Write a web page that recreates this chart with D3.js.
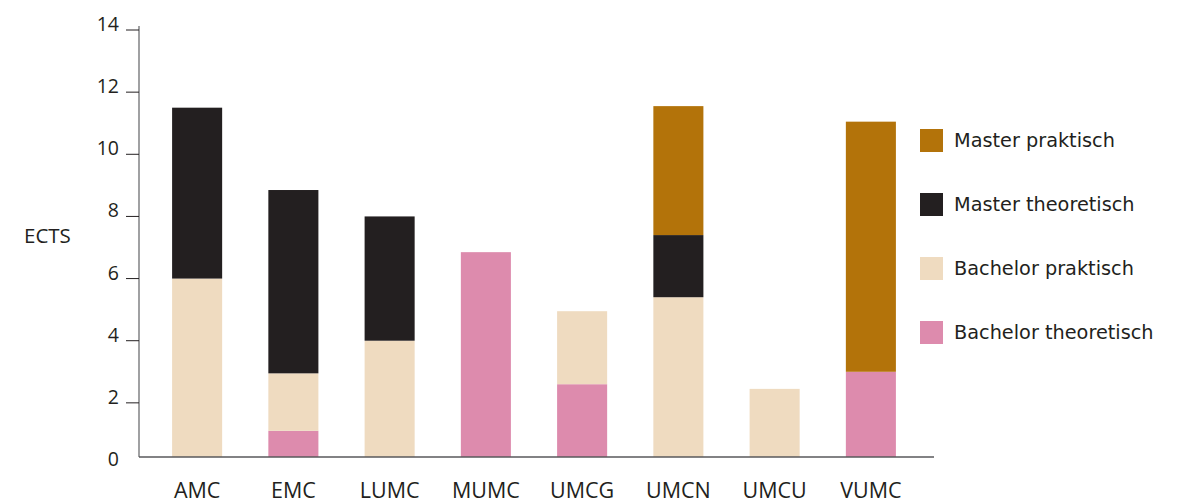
<!DOCTYPE html>
<html>
<head>
<meta charset="utf-8">
<script src="https://cdn.jsdelivr.net/npm/d3@7"></script>
<style>
  body { margin: 0; background: #fff; }
  svg text { fill: #231f20; }
</style>
</head>
<body>
<div id="chart"></div>
<script>
var width = 1179;
var height = 503;

var schools = ["AMC", "EMC", "LUMC", "MUMC", "UMCG", "UMCN", "UMCU", "VUMC"];
var bachelorTheoretisch = [0, 1.1, 0, 6.85, 2.6, 0, 0, 3];
var bachelorPraktisch = [6, 1.85, 4, 0, 2.35, 5.4, 2.45, 0];
var masterTheoretisch = [5.5, 5.9, 4, 0, 0, 2, 0, 0];
var masterPraktisch = [0, 0, 0, 0, 0, 4.15, 0, 8.05];
var yTicks = [0, 2, 4, 6, 8, 10, 12, 14];

var seriesNames = ["Bachelor theoretisch", "Bachelor praktisch", "Master theoretisch", "Master praktisch"];
var seriesColors = ["#dd8bad", "#efdbc0", "#231f20", "#b3730a"];
var seriesValues = [bachelorTheoretisch, bachelorPraktisch, masterTheoretisch, masterPraktisch];

// table for d3.stack
var rows = schools.map(function(s, i) {
  var r = {school: s};
  seriesNames.forEach(function(n, k) { r[n] = seriesValues[k][i]; });
  return r;
});
var stacked = d3.stack().keys(seriesNames)(rows);

var svg = d3.select('#chart').append('svg')
  .attr('width', width)
  .attr('height', height);

var x = d3.scaleBand()
  .domain(schools)
  .range([149, 919])
  .paddingInner(0.48)
  .paddingOuter(0.24);

var y = d3.scaleLinear()
  .domain([0, 14])
  .range([465, 30]);

var baseline = 457;
var axisLeft = 139;

// bars
svg.selectAll('g.series')
  .data(stacked)
  .enter()
  .append('g')
  .attr('class', 'series')
  .attr('fill', function(d, i) { return seriesColors[i]; })
  .selectAll('rect')
  .data(function(d) { return d.filter(function(p) { return p[1] - p[0] > 0; }); })
  .enter()
  .append('rect')
  .attr('x', function(d) { return x(d.data.school); })
  .attr('width', x.bandwidth())
  .attr('y', function(d) { return y(d[1]); })
  .attr('height', function(d) { return Math.min(baseline, y(d[0])) - y(d[1]); });

// y axis line + ticks
svg.append('line')
  .attr('x1', axisLeft).attr('x2', axisLeft)
  .attr('y1', y(14) - 4).attr('y2', baseline)
  .attr('stroke', '#6d6e71').attr('stroke-width', 1.3);

svg.selectAll('line.ytick')
  .data(yTicks.filter(function(t) { return t > 0; }))
  .enter()
  .append('line')
  .attr('class', 'ytick')
  .attr('x1', axisLeft - 13).attr('x2', axisLeft)
  .attr('y1', function(d) { return y(d); })
  .attr('y2', function(d) { return y(d); })
  .attr('stroke', '#231f20').attr('stroke-width', 1);

svg.selectAll('text.ylab')
  .data(yTicks)
  .enter()
  .append('text')
  .attr('class', 'ylab')
  .attr('x', 119)
  .attr('y', function(d) { return y(d) + 1; })
  .attr('text-anchor', 'end')
  .style('font-family', 'Open Sans, sans-serif')
  .style('font-size', '19.5px')
  .text(function(d) { return d; });

// x axis line
svg.append('line')
  .attr('x1', axisLeft).attr('x2', 934)
  .attr('y1', baseline).attr('y2', baseline)
  .attr('stroke', '#58595b').attr('stroke-width', 1.3);

svg.selectAll('text.xlab')
  .data(schools)
  .enter()
  .append('text')
  .attr('class', 'xlab')
  .attr('x', function(d) { return x(d) + x.bandwidth() / 2; })
  .attr('y', 498)
  .attr('text-anchor', 'middle')
  .style('font-family', 'Open Sans, sans-serif')
  .style('font-size', '21.5px')
  .text(function(d) { return d; });

// axis title
svg.append('text')
  .attr('x', 24)
  .attr('y', 243)
  .style('font-family', 'Open Sans, sans-serif')
  .style('font-size', '20.5px')
  .text('ECTS');

// legend (top to bottom: master praktisch first)
var legendOrder = [3, 2, 1, 0];
var legend = svg.selectAll('g.legend')
  .data(legendOrder)
  .enter()
  .append('g')
  .attr('class', 'legend')
  .attr('transform', function(d, i) { return 'translate(920,' + (129 + i * 64) + ')'; });

legend.append('rect')
  .attr('width', 23).attr('height', 23)
  .attr('fill', function(d) { return seriesColors[d]; });

legend.append('text')
  .attr('x', 34)
  .attr('y', 18)
  .style('font-family', 'DejaVu Sans, sans-serif')
  .style('font-size', '19.3px')
  .text(function(d) { return seriesNames[d]; });
</script>
</body>
</html>
